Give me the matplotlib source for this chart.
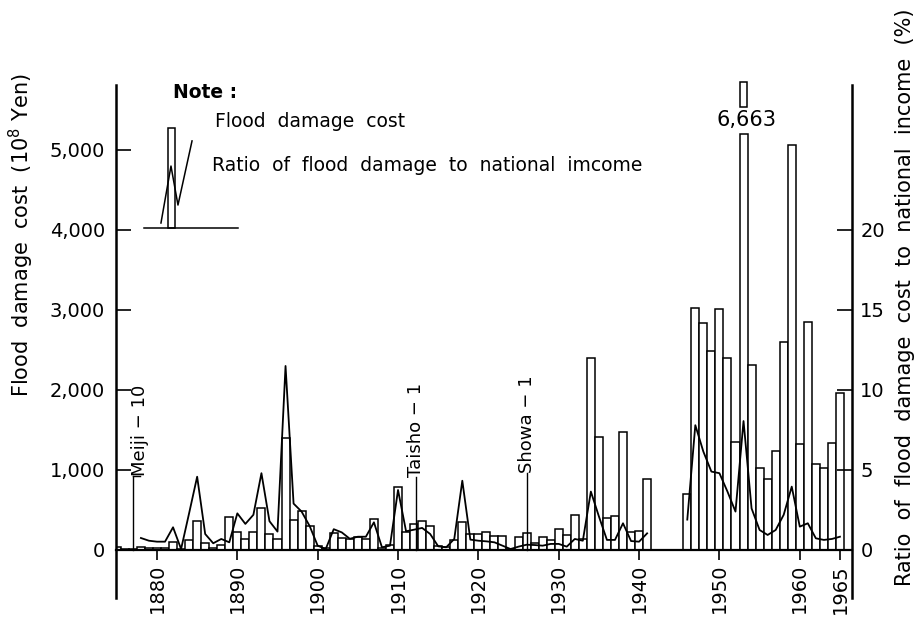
import numpy as np
import matplotlib
matplotlib.use("Agg")
import matplotlib.pyplot as plt

nan = np.nan

# years 1875 .. 1965
years = np.arange(1875, 1966)

# flood damage cost (10^8 yen)
cost = [40, 15, 15, 40, 20, 20, 20, 95, 12, 125,          # 1875-1884
        358, 83, 20, 62, 408, 229, 137, 229, 529, 204,     # 1885-1894
        137, 1400, 379, 492, 304, 54, 20, 208, 150, 137,   # 1895-1904
        167, 137, 387, 20, 67, 792, 220, 325, 367, 304,    # 1905-1914
        54, 33, 125, 346, 200, 200, 229, 179, 179, 10,     # 1915-1924
        158, 212, 83, 167, 125, 262, 187, 442, 137, 2404,  # 1925-1934
        1417, 396, 425, 1479, 229, 242, 883, nan, nan, nan,  # 1935-1944
        nan, 696, 3029, 2833, 2488, 3013, 2396, 1346, 6663, 2313,  # 1945-1954
        1029, 883, 1238, 2596, 5063, 1321, 2854, 1071, 1021, 1342,  # 1955-1964
        1958]                                               # 1965

# ratio of flood damage to national income (%)
ratio = [nan, nan, nan, 0.75, 0.58, 0.52, 0.52, 1.42, 0.06, 2.3,
         4.58, 1.0, 0.42, 0.69, 0.48, 2.29, 1.63, 2.2, 4.8, 1.8,
         1.15, 11.5, 2.9, 2.4, 1.5, 0.27, 0.06, 1.3, 1.1, 0.7,
         0.83, 0.83, 1.73, 0.17, 0.27, 3.75, 1.17, 1.27, 1.38, 1.0,
         0.23, 0.17, 0.69, 4.33, 0.65, 0.58, 0.54, 0.48, 0.27, 0.06,
         0.21, 0.33, 0.31, 0.27, 0.38, 0.38, 0.21, 0.69, 0.58, 3.65,
         2.1, 0.63, 0.63, 1.67, 0.56, 0.52, 1.04, nan, nan, nan,
         nan, 1.9, 7.8, 6.15, 4.9, 4.8, 3.65, 2.4, 8.06, 2.6,
         1.25, 0.94, 1.25, 2.2, 3.96, 1.46, 1.67, 0.73, 0.63, 0.69,
         0.83]

year_ticks = [1880, 1890, 1900, 1910, 1920, 1930, 1940, 1950, 1960, 1965]
cost_ticks = [0, 1000, 2000, 3000, 4000, 5000]
ratio_ticks = [0, 5, 10, 15, 20]

# era marks: (year, label, leader top, text shift in years)
eras = [(1877, "Meiji \u2212 10", 925, 0.9),
        (1912.2, "Taisho \u2212 1", 912, 0.0),
        (1926, "Showa \u2212 1", 962, 0.1)]

cost = np.array(cost, dtype=float)
ratio = np.array(ratio, dtype=float)

# broken bar for the 1953 value
BREAK_AT = 5200
STUB_LO, STUB_HI = 5540, 5850

plt.rcParams['font.family'] = 'DejaVu Sans'

fig = plt.figure(figsize=(9.22, 6.17), dpi=100)
ax = fig.add_axes([116 / 922, 1 - 598 / 617, 736 / 922, 513 / 617])
ax2 = ax.twinx()

ax.set_xlim(1874.9, 1966.5)
ax.set_ylim(-600, 5812)
ax2.set_ylim(-3, 5812 / 200)

shown = np.minimum(cost, BREAK_AT)
ax.bar(years, shown, width=1.0, color='white', edgecolor='black', linewidth=1.1, zorder=2)
big = years[cost > BREAK_AT]
ax.bar(big, STUB_HI - STUB_LO, bottom=STUB_LO, width=0.9, color='white',
       edgecolor='black', linewidth=1.1, clip_on=False, zorder=2)
for y, v in zip(big, cost[cost > BREAK_AT]):
    ax.text(y + 0.4, (BREAK_AT + STUB_LO) / 2, f"{int(v):,}", ha='center', va='center',
            fontsize=15)

ax2.plot(years, ratio, color='black', linewidth=1.3)

# spines
ax.spines['bottom'].set_position(('data', 0))
ax.spines['top'].set_visible(False)
ax.spines['right'].set_visible(False)
ax.spines['left'].set_linewidth(1.8)
ax.spines['bottom'].set_linewidth(1.6)
for s in ['top', 'left', 'bottom']:
    ax2.spines[s].set_visible(False)
ax2.spines['right'].set_linewidth(1.8)

ax.set_xticks(year_ticks)
ax.set_xticklabels([str(y) for y in year_ticks], rotation=90, fontsize=14)
ax.tick_params(axis='x', direction='out', length=7, width=1.2, pad=3)

ax.set_yticks(cost_ticks)
ax.set_yticklabels([f"{v:,}" for v in cost_ticks], fontsize=14)
ax.tick_params(axis='y', direction='in', length=11, width=1.2, pad=8)

ax2.set_yticks(ratio_ticks)
ax2.set_yticklabels([str(v) for v in ratio_ticks], fontsize=14)
ax2.tick_params(axis='y', direction='in', length=11, width=1.2, pad=6)

ax.text(-0.128, 0.708, r"Flood  damage  cost  (10$^8$ Yen)", rotation=90,
        ha='center', va='center', fontsize=15, transform=ax.transAxes)
ax.text(1.072, 0.587, "Ratio  of  flood  damage  cost  to  national  income  (%)",
        rotation=90, ha='center', va='center', fontsize=15, transform=ax.transAxes,
        clip_on=False)

# era annotations
for yr, lab, lead_top, shift in eras:
    ax.plot([yr, yr], [0, lead_top], color='black', linewidth=1.0)
    if shift > 0.2:
        ax.plot([yr, yr + shift], [lead_top, lead_top], color='black', linewidth=1.0)
    ax.text(yr + shift, lead_top, lab, rotation=90, ha='center', va='bottom', fontsize=13)

# note / legend
tr = ax.transAxes
ax.text(0.0774, 0.986, "Note :", fontsize=13.5, fontweight='bold', ha='left', va='center',
        transform=tr)
ax.text(0.1345, 0.928, "Flood  damage  cost", fontsize=13.5, ha='left', va='center',
        transform=tr)
ax.text(0.1304, 0.844, "Ratio  of  flood  damage  to  national  imcome", fontsize=13.5,
        ha='left', va='center', transform=tr)
ax.add_patch(plt.Rectangle((0.0707, 0.721), 0.0095, 0.195, transform=tr, facecolor='white',
                           edgecolor='black', linewidth=1.1))
ax.plot([0.038, 0.166], [0.721, 0.721], color='black', linewidth=1.1, transform=tr)
ax.plot([0.0611, 0.0747, 0.0842, 0.1033], [0.731, 0.842, 0.766, 0.891], color='black',
        linewidth=1.1, transform=tr)

fig.savefig("out.png", dpi=100)
